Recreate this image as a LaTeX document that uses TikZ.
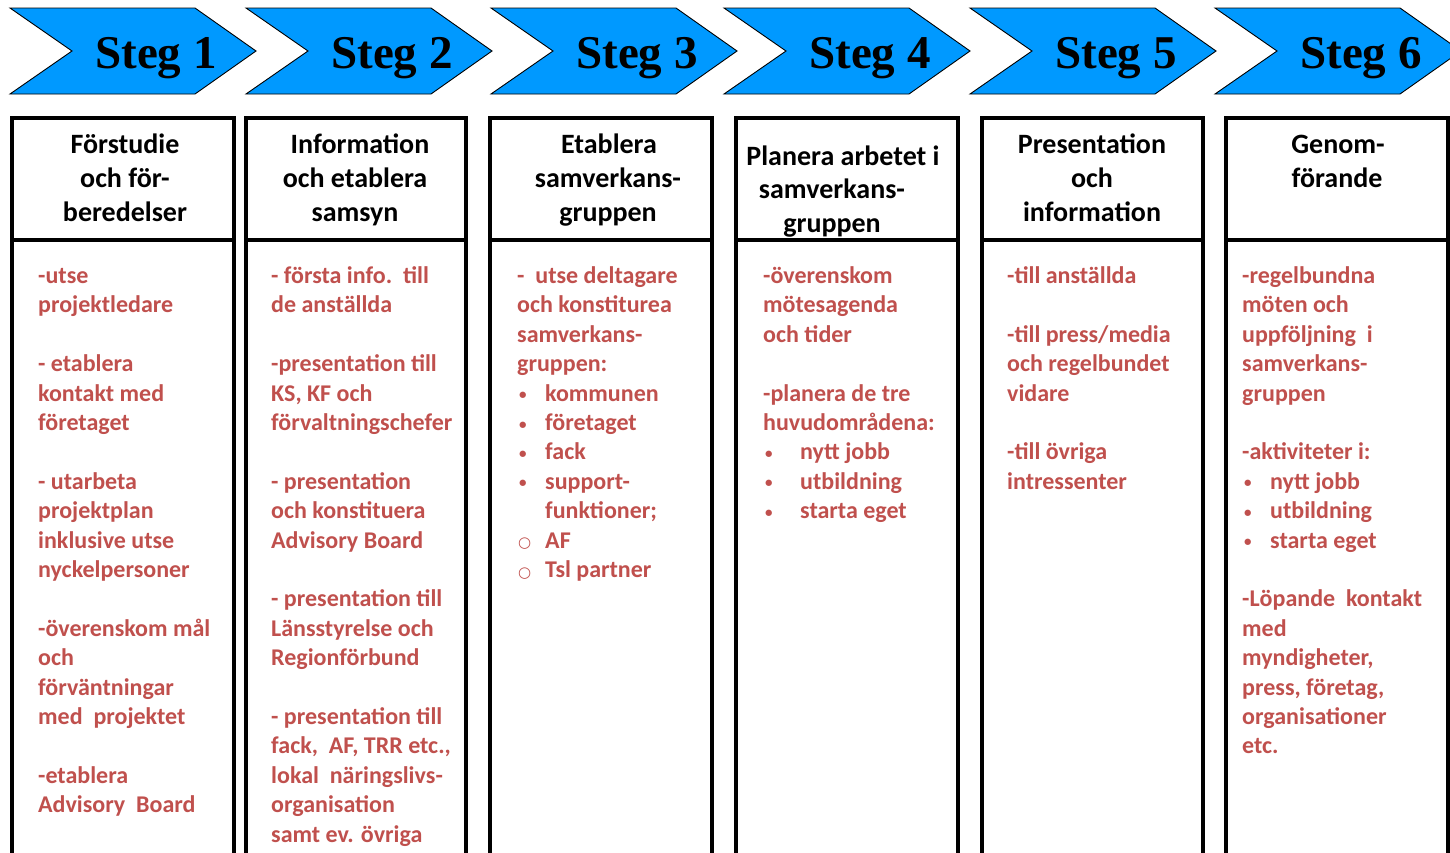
\documentclass[tikz,border=0pt]{standalone}
\usepackage{fontspec}
\setmainfont{Carlito}
\newfontfamily\stegfont{Liberation Serif}
\newfontfamily\symfont{DejaVu Sans}
\definecolor{chevblue}{RGB}{0,153,255}
\definecolor{bodyred}{RGB}{192,80,77}
\newcommand\bul[1][28pt]{\makebox[#1][l]{\hspace*{2pt}\raisebox{1.5pt}{\fontsize{15}{15}\selectfont\char"2022}}}
\newcommand\circbul{\makebox[28pt][l]{\hspace*{1pt}\raisebox{0.5pt}{\symfont\mdseries\fontsize{15}{15}\selectfont\char"25CB}}}
\newcommand\bodycol[3]{%
  \foreach \k/\t in {#3}{%
    \node[bodytxt] (#1-\k) at (#2,{-283.5-29.4*\k}) {\t};}}
\newcommand\headcol[2]{%
  \foreach \hx/\hy/\t [count=\j] in {#2}{%
    \node[headtxt] (#1-\j) at (\hx,-\hy) {\t};}}
\begin{document}
\begin{tikzpicture}[x=1pt,y=1pt,
  chev/.style={fill=chevblue,draw=black,line width=0.9pt,line join=miter},
  stegtxt/.style={font=\stegfont\bfseries\fontsize{47}{50}\selectfont,anchor=base,inner sep=0pt},
  colbox/.style={draw=black,line width=4pt,line join=miter},
  headtxt/.style={font=\bfseries\fontsize{28}{34}\selectfont,anchor=base,inner sep=0pt},
  bodytxt/.style={font=\bfseries\fontsize{24}{29.4}\selectfont,text=bodyred,anchor=base west,inner sep=0pt}]
\useasboundingbox (0,0) rectangle (1450,-852);
\clip (0,0) rectangle (1450,-852);
\fill[white] (0,0) rectangle (1450,-852);

% chevrons
\foreach \L [count=\i] in {10,246,491,724,970,1215}{
  \draw[chev] (\L,-8) -- ({\L+185},-8) -- ({\L+246},-51) -- ({\L+185},-94) -- (\L,-94) -- ({\L+62},-51) -- cycle;
  \node[stegtxt] (steg\i) at ({\L+146},-68) {Steg \i};
}

% column boxes
\foreach \a/\b in {12/234,246/466,490/712,736/958,982/1203,1226/1448}{
  \draw[colbox] (\a,-880) -- (\a,-118) -- (\b,-118) -- (\b,-880);
  \draw[colbox] (\a,-240) -- (\b,-240);
}

% headers
\headcol{h1}{125/153/F\"orstudie, 125/187/och f\"or-, 125/221/beredelser}
\headcol{h2}{360/153/Information, 355/187/och etablera, 355/221/samsyn}
\headcol{h3}{609/153/Etablera, 608/187/samverkans-, 608/221/gruppen}
\headcol{h4}{843/165/Planera arbetet i, 832/198/samverkans-, 832/232/gruppen}
\headcol{h5}{1092/153/Presentation, 1092/187/och, 1092/221/information}
\headcol{h6}{1338/153/Genom-, 1337/187/f\"orande}

% bodies
\bodycol{b1}{38}{0/-utse, 1/projektledare, 3/- etablera, 4/kontakt med, 5/f\"oretaget,
  7/- utarbeta, 8/projektplan, 9/inklusive utse, 10/nyckelpersoner,
  12/-\"overenskom m\aa l, 13/och, 14/f\"orv\"antningar, 15/med~~projektet,
  17/-etablera, 18/Advisory~~Board}
\bodycol{b2}{271}{0/- f\"orsta info.~~till, 1/de anst\"allda, 3/-presentation till, 4/{KS, KF och},
  5/f\"orvaltningschefer, 7/- presentation, 8/och konstituera, 9/Advisory Board,
  11/- presentation till, 12/L\"ansstyrelse och, 13/Regionf\"orbund,
  15/- presentation till, 16/{fack,~~AF, TRR etc.,}, 17/lokal~~n\"aringslivs-,
  18/organisation, 19/samt ev. \"ovriga}
\bodycol{b3}{517}{0/-~~utse deltagare, 1/och konstiturea, 2/samverkans-, 3/gruppen:,
  4/\bul kommunen, 5/\bul f\"oretaget, 6/\bul fack, 7/\bul support-,
  8/\hspace*{28pt}funktioner;, 9/\circbul AF, 10/\circbul Tsl partner}
\bodycol{b4}{763}{0/-\"overenskom, 1/m\"otesagenda, 2/och tider, 4/-planera de tre,
  5/huvudomr\aa dena:, 6/\bul[37pt]nytt jobb, 7/\bul[37pt]utbildning, 8/\bul[37pt]starta eget}
\bodycol{b5}{1007}{0/-till anst\"allda, 2/{-till press/media}, 3/och regelbundet, 4/vidare,
  6/-till \"ovriga, 7/intressenter}
\bodycol{b6}{1242}{0/-regelbundna, 1/m\"oten och, 2/uppf\"oljning~~i, 3/samverkans-, 4/gruppen,
  6/-aktiviteter i:, 7/\bul nytt jobb, 8/\bul utbildning, 9/\bul starta eget,
  11/-L\"opande~~kontakt, 12/med, 13/{myndigheter,}, 14/{press, f\"oretag,},
  15/organisationer, 16/etc.}
\end{tikzpicture}
\end{document}
